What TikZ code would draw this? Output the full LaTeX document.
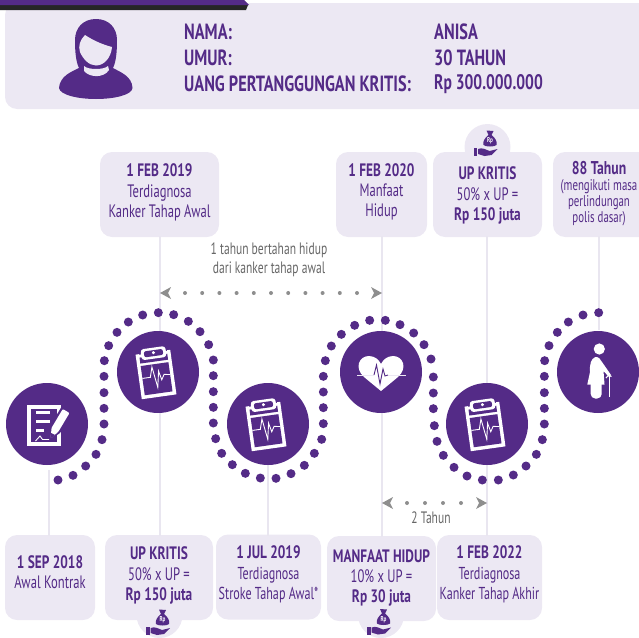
\documentclass[tikz,border=0pt]{standalone}
\usepackage{fontspec}
\setmainfont[FakeStretch=0.70,BoldFeatures={FakeStretch=0.74}]{PT Sans}
\definecolor{pur}{HTML}{542B87}
\definecolor{box}{HTML}{ECE8F3}
\definecolor{stem}{HTML}{E9E6F0}
\definecolor{gry}{HTML}{8E8E8E}
\definecolor{ntxt}{HTML}{666666}
\tikzset{
  card/.style={fill=box,rounded corners=12pt,inner sep=0pt,minimum height=85pt},
  stemline/.style={draw=stem,line width=1.3pt},
  tl/.style={text=pur,align=center,font=\fontsize{18}{20.3}\selectfont,inner sep=0pt},
  tls/.style={text=pur,align=center,font=\fontsize{17.3}{20.3}\selectfont,inner sep=0pt},
  hd/.style={text=pur,anchor=west,font=\bfseries\fontsize{22}{24}\selectfont,inner sep=0pt},
  disc/.style={circle,fill=pur,minimum size=82pt,inner sep=0pt},
  note/.style={text=ntxt,font=\fontsize{16.5}{19.5}\selectfont,align=center,inner sep=0pt},
}
\newcommand{\bt}[1]{{\bfseries #1}}
\newcommand{\bl}[1]{{\fontsize{18}{20.3}\selectfont\bfseries #1}}
\newcommand{\clipboard}[1]{%
 \begin{scope}[shift={#1}]
 \begin{scope}[shift={(-2,2.5)},rotate=8]
  \fill[white] (-17.5,-22.5) rectangle (17.5,22.5);
  \fill[pur] (-14,-19) rectangle (14,-13);
  \fill[pur] (-14,-10.5) rectangle (14,19);
  \fill[pur] (-14,-25) rectangle (14,-22);
  \fill[white,rounded corners=3pt] (-12,-27) rectangle (13,-16);
  \fill[pur,rounded corners=2pt] (-9,-24.5) rectangle (10,-18.5);
  \fill[white] (0.5,-22) circle (1.7);
  \draw[white,line width=.9pt] (-14,2) -- (-6,2) -- (-3,-8) -- (0,13) -- (3,-3) -- (5,6) -- (8,1) -- (14,2);
 \end{scope}
 \end{scope}}
\newcommand{\moneybag}[1]{%
 \begin{scope}[shift={#1}]
  \fill[pur] (-3,-14.5) -- (4,-14) -- (2,-10) .. controls (6,-7) and (8,-3) .. (7,0) .. controls (6,2) and (-5,2) .. (-6,0) .. controls (-7,-3) and (-5,-7) .. (-1,-10) -- cycle;
  \fill[pur] (-16,3) rectangle (-12.5,11);
  \fill[pur] (-11.5,4) .. controls (-7,2) and (-3,5) .. (0,6) -- (8,4) -- (2,10) -- (-5,11) -- (-11.5,9) -- cycle;
  \node[text=white,inner sep=0pt,font=\bfseries\fontsize{7}{7}\selectfont] at (0.5,-4) {Rp};
 \end{scope}}
\begin{document}
\begin{tikzpicture}[x=1pt,y=-1pt]
\useasboundingbox (0,0) rectangle (639,637);
% header
\fill[box,rounded corners=12pt] (5,3) rectangle (660,109);
\fill[black!85] (0,5) -- (248,5) -- (246,10) -- (0,10) -- cycle;
\fill[pur] (0,0) -- (244,0) -- (249,5) -- (0,5) -- cycle;
% woman icon
\fill[pur] (96,19) .. controls (83,19) and (75,28) .. (75,40) .. controls (75,52) and (76,62) .. (79,68)
  .. controls (71,72) and (60,76) .. (59,88) .. controls (60,95) and (78,99) .. (96,99)
  .. controls (114,99) and (132,95) .. (132.5,88) .. controls (132,76) and (120,72) .. (113,68)
  .. controls (116,62) and (117,52) .. (117,40) .. controls (117,28) and (109,19) .. (96,19) -- cycle;
\fill[box] (85,35) .. controls (80,40) and (78,46) .. (80,52) .. controls (83,59) and (89,65.5) .. (96,65.5)
  .. controls (104,65.5) and (111,58) .. (112,47) .. controls (104,45) and (94,41) .. (85,35) -- cycle;
\fill[box] (84,66) .. controls (88,70) and (104,70) .. (108,66) -- (109,70) .. controls (104,78) and (90,78) .. (84,71) -- cycle;
\node[hd] (n1) at (184,32) {NAMA:};
\node[hd] (n2) at (184,58) {UMUR:};
\node[hd] (n3) at (184,84) {UANG PERTANGGUNGAN KRITIS:};
\node[hd] (v1) at (434,32) {ANISA};
\node[hd] (v2) at (434,58) {30 TAHUN};
\node[hd,font=\bfseries\fontsize{21}{24}\selectfont] (v3) at (434,84) {Rp 300.000.000};
% money bubbles
\fill[box] (487.5,147) circle (23);
\fill[box] (159.5,615) circle (23);
\fill[box] (381,615) circle (23);
% cards
\node[card,minimum width=119pt] (k1) at (159.5,194.5) {};
\node[card,minimum width=91pt] (k2) at (381.5,194.5) {};
\node[card,minimum width=109pt] (k3) at (487.5,194.5) {};
\node[card,minimum width=107pt] (k4) at (606.5,194.5) {};
\node[card,minimum width=90pt] (k5) at (50,577.5) {};
\node[card,minimum width=108pt] (k6) at (159,577.5) {};
\node[card,minimum width=105pt] (k7) at (268.5,577) {};
\node[card,minimum width=109pt] (k8) at (381.5,578.5) {};
\node[card,minimum width=105pt] (k9) at (489.5,577.5) {};
% stems
\coordinate (e1) at (49,470); \coordinate (e1b) at (49,536);
\coordinate (e3) at (268,430); \coordinate (e3b) at (268,536);
\coordinate (e4) at (160,236); \coordinate (e4b) at (160,536);
\coordinate (e5) at (382,236); \coordinate (e5b) at (382,537);
\coordinate (e6) at (487,236); \coordinate (e6b) at (487,536);
\coordinate (e7) at (599,236); \coordinate (e7b) at (599,330);
\foreach \a/\b in {e1/e1b,e3/e3b,e4/e4b,e5/e5b,e6/e6b,e7/e7b} \draw[stemline] (\a) -- (\b);
\node[tl] (t1) at (159.5,192.5) {\bt{1 FEB 2019}\\Terdiagnosa\\Kanker Tahap Awal};
\node[tl] (t2) at (381.5,192) {\bt{1 FEB 2020}\\Manfaat\\Hidup};
\node[tl] (t3) at (487.5,195.5) {\bt{UP KRITIS}\\50\% x UP =\\\bt{Rp 150 juta}};
\node[tl,font=\fontsize{15.5}{16}\selectfont] (t4) at (599,193.5) {\fontsize{18.5}{19}\selectfont\bt{88 Tahun}\\(mengikuti masa\\perlindungan\\polis dasar)};
\node[tl] (b1) at (50,572.5) {\bt{1 SEP 2018}\\Awal Kontrak};
\node[tl] (b2) at (159,575.5) {\bt{UP KRITIS}\\50\% x UP =\\\bt{Rp 150 juta}};
\node[tls] (b3) at (268.5,574.5) {\bl{1 JUL 2019}\\Terdiagnosa\\Stroke Tahap Awal*};
\node[tl] (b4) at (381.5,578) {\bt{MANFAAT HIDUP}\\10\% x UP =\\\bt{Rp 30 juta}};
\node[tls] (b5) at (489.5,574.5) {\bl{1 FEB 2022}\\Terdiagnosa\\Kanker Tahap Akhir};
\moneybag{(489.5,145)}
\moneybag{(162,624)}
\moneybag{(383,623.5)}
% dots
\foreach \x/\y in {174/540,219/526,257/498,288/463,306/419,312/372,312/325,312/278,312/229,313/182,326/137,351/97,385/66,428/45,475/38,521/44,565/64,600/95,626/134,640/180,640/227,640/275,640/322,640/369,647/416,665/460,697/494,736/520,781/534,828/535,873/521,913/496,943/460,965/418,970/371,970/323,970/276,970/229,976/182,994/138,1024/103,1064/76,1109/61,1156/61,1200/74,1241/99,1272/134,1293/177,1300/231,1300/279,1300/326,1303/377,1311/424,1330/466,1362/502,1401/528,1447/540,1495/540,1540/525,1578/498,1609/463,1627/419,1633/372,1633/325,1633/278,1633/229,1634/182,1647/137,1672/97,1705/66,1749/45,1796/38}
  \fill[pur] ({\x/3},{300+\y/3}) circle (4.5);
% discs
\node[disc] (c1) at (47,424) {};
\node[disc] (c2) at (158,372) {};
\node[disc] (c3) at (268,424) {};
\node[disc] (c4) at (381,372) {};
\node[disc] (c5) at (487,424) {};
\node[disc] (c6) at (598,372) {};
% contract icon
\begin{scope}[shift={(c1)}]
 \fill[white] (-19.7,-19) rectangle (13.7,21.7);
 \fill[pur] (-16.2,-15.5) rectangle (10.2,18.2);
 \fill[white] (-11.3,-13) rectangle (3,-10);
 \fill[white] (-11.3,-4) rectangle (3,-1);
 \fill[white] (-11.3,4.5) rectangle (-2.7,7.5);
 \fill[pur] (1.5,17) -- (2.5,3) -- (15,-18) -- (25.5,-11.5) -- (13,9) -- cycle;
 \fill[white,rounded corners=1pt] (3.7,14.5) -- (4.5,4) -- (15.8,-15) -- (22.5,-11) -- (11.5,7.5) -- cycle;
 \fill[pur] (3.7,14.5) -- (4.2,9) -- (8,11) -- cycle;
 \draw[white,line width=.9pt] (-11.5,17) -- (-7,12) -- (-4.5,15.5) -- (2,15.5);
\end{scope}
\clipboard{(c2)}
\clipboard{(c3)}
\clipboard{(c5)}
% heart
\begin{scope}[shift={(c4)}]
 \fill[white] (0,19) -- (-17,5) .. controls (-27,-4) and (-22,-16) .. (-12,-16) .. controls (-6,-16) and (-2,-12) .. (0,-8) .. controls (2,-12) and (6,-16) .. (12,-16) .. controls (22,-16) and (27,-4) .. (17,5) -- cycle;
 \draw[box,line width=1pt] (-24,3) -- (-7,3);
 \draw[box,line width=1pt] (7,3) -- (25,3);
 \draw[pur,line width=.9pt] (-7,3) -- (-4.5,-7) -- (-1,12) -- (2,-3) -- (4,4) -- (7,3);
\end{scope}
% old person
\begin{scope}[shift={(c6)}]
 \fill[white] (1.3,-23) circle (5.6);
 \fill[white] (-3,-14.8) .. controls (0,-15.5) and (3,-13) .. (4,-10) -- (13,3) -- (11,5) -- (5.5,-1) -- (6.5,12.5) -- (-10.7,12.5) -- (-8,0) .. controls (-8.5,-8) and (-7,-13) .. (-3,-14.8) -- cycle;
 \fill[white,rounded corners=4.5pt] (-7.3,8) rectangle (3.7,26.5);
 \draw[white,line width=1.4pt] (11.3,4) -- (11.3,25);
 \draw[white,line width=1.1pt] (8,6) -- (10.5,3.2) -- (13.5,4.5);
\end{scope}
% spans
\fill[gry] (160,293) -- (171,287) -- (168,293) -- (171,299) -- cycle;
\fill[gry] (382,293) -- (371,287) -- (374,293) -- (371,299) -- cycle;
\foreach \i in {0,...,10} \fill[gry] ({185+\i*17.2},293) circle (2);
\fill[gry] (382,503) -- (393,497) -- (390,503) -- (393,509) -- cycle;
\fill[gry] (487,503) -- (476,497) -- (479,503) -- (476,509) -- cycle;
\foreach \i in {0,...,3} \fill[gry] ({407+\i*18},503) circle (2);
\node[note] (l1) at (269,260) {1 tahun bertahan hidup\\dari kanker tahap awal};
\node[note] (l2) at (431,518) {2 Tahun};
\end{tikzpicture}
\end{document}
